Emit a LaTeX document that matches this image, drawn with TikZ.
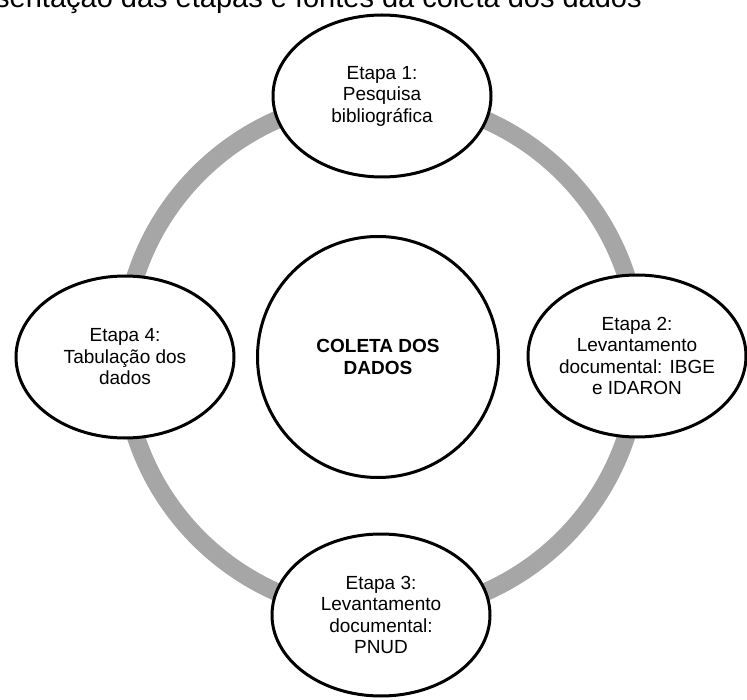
\documentclass[tikz,border=0pt]{standalone}
\usepackage{fontspec}
\setmainfont{Liberation Sans}
\usetikzlibrary{shapes.geometric}
\definecolor{ringgray}{RGB}{166,166,166}
\begin{document}
\begin{tikzpicture}[x=1pt,y=-1pt,
  stage/.style={ellipse, draw=black, line width=3pt, fill=white,
    minimum width=218pt, minimum height=162pt, inner sep=-12pt,
    align=center, font=\fontsize{19}{21.5}\selectfont},
  hub/.style={circle, draw=black, line width=3pt, fill=white,
    minimum size=241pt, inner sep=0pt, align=center,
    font=\bfseries\fontsize{19}{21.5}\selectfont},
  ring/.style={draw=ringgray, line width=18pt},
  titletext/.style={anchor=base west, inner sep=0pt, font=\fontsize{29}{34}\selectfont}]
\useasboundingbox (0,0) rectangle (747,700);
\node[titletext] (title) at (-5,8) {sentação das etapas e fontes da coleta dos dados};
\coordinate (c) at (381,356);
\draw[ring] (c) circle [radius=258];
\node[stage] (s1) at (382,96) {Etapa 1:\\Pesquisa\\bibliográfica};
\node[stage] (s2) at (637,356) {Etapa 2:\\Levantamento\\documental: IBGE\\e IDARON};
\node[stage] (s3) at (381,615) {Etapa 3:\\Levantamento\\documental:\\PNUD};
\node[stage] (s4) at (125,357) {Etapa 4:\\Tabulação dos\\dados};
\node[hub] (hub) at (378,357) {COLETA DOS\\DADOS};
\end{tikzpicture}
\end{document}
